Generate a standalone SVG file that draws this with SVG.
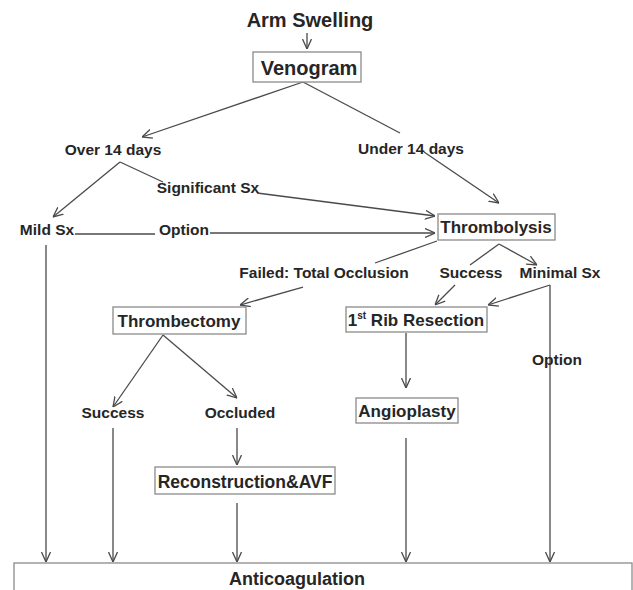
<svg xmlns="http://www.w3.org/2000/svg" width="633" height="590" viewBox="0 0 633 590">
<style>
text{font-family:"Liberation Sans",Arial,sans-serif;font-weight:bold;fill:#262626}
.lbl{font-size:15.5px}
.box{font-size:17px}
.big{font-size:20px}
rect{fill:#fff;stroke:#8a8a8a;stroke-width:1.3}
#connectors line{stroke:#4a4a4a;stroke-width:1.3;fill:none}
.a{marker-end:url(#arr)}
</style>
<defs>
<marker id="arr" viewBox="0 0 10 10" refX="10" refY="5" markerWidth="10" markerHeight="10" markerUnits="userSpaceOnUse" orient="auto">
<path d="M0,0.5 L10,5 L0,9.5" fill="none" stroke="#4a4a4a" stroke-width="1.3"/>
</marker>
</defs>
<rect x="0" y="0" width="633" height="590" style="fill:#fff;stroke:none"/>
<g id="connectors">
<line class="a" x1="307" y1="33" x2="307" y2="49"/>
<line class="a" x1="303" y1="82" x2="142" y2="137"/>
<line x1="303" y1="82" x2="400" y2="133"/>
<line class="a" x1="424" y1="152" x2="499" y2="203"/>
<line class="a" x1="120" y1="162" x2="53" y2="217"/>
<line x1="120" y1="162" x2="163" y2="182"/>
<line class="a" x1="257" y1="193" x2="435" y2="216"/>
<line x1="75" y1="234" x2="155" y2="234"/>
<line class="a" x1="210" y1="233" x2="435" y2="233"/>
<line x1="437" y1="241" x2="375" y2="263"/>
<line class="a" x1="303" y1="287" x2="240" y2="305"/>
<line x1="499" y1="244" x2="470" y2="265"/>
<line class="a" x1="499" y1="244" x2="537" y2="265"/>
<line class="a" x1="455" y1="285" x2="435" y2="305"/>
<line class="a" x1="550" y1="285" x2="488" y2="305"/>
<line class="a" x1="550" y1="285" x2="550" y2="562"/>
<line class="a" x1="406" y1="333" x2="406" y2="388"/>
<line class="a" x1="406" y1="438" x2="406" y2="562"/>
<line class="a" x1="163" y1="335" x2="113" y2="407"/>
<line class="a" x1="163" y1="335" x2="237" y2="398"/>
<line class="a" x1="113" y1="428" x2="113" y2="562"/>
<line class="a" x1="237" y1="428" x2="237" y2="465"/>
<line class="a" x1="237" y1="503" x2="237" y2="562"/>
<line class="a" x1="46" y1="245" x2="46" y2="562"/>
</g>
<g id="arm-swelling"><text class="big" x="310" y="27" text-anchor="middle">Arm Swelling</text></g>
<g id="venogram"><rect x="253" y="52" width="108" height="30"/><text class="big" x="309" y="75" text-anchor="middle">Venogram</text></g>
<g id="over14"><text class="lbl" x="113" y="155" text-anchor="middle">Over 14 days</text></g>
<g id="under14"><text class="lbl" x="411" y="154" text-anchor="middle">Under 14 days</text></g>
<g id="significant"><text class="lbl" x="208" y="193" text-anchor="middle">Significant Sx</text></g>
<g id="mild"><text class="lbl" x="47" y="235" text-anchor="middle">Mild Sx</text></g>
<g id="option1"><text class="lbl" x="184" y="235" text-anchor="middle">Option</text></g>
<g id="thrombolysis"><rect x="438" y="214" width="117" height="26"/><text class="box" x="496" y="233" text-anchor="middle">Thrombolysis</text></g>
<g id="failed"><text class="lbl" x="324" y="278" text-anchor="middle">Failed: Total Occlusion</text></g>
<g id="success1"><text class="lbl" x="471" y="278" text-anchor="middle">Success</text></g>
<g id="minimal"><text class="lbl" x="560" y="278" text-anchor="middle">Minimal Sx</text></g>
<g id="thrombectomy"><rect x="113" y="307" width="133" height="27"/><text class="box" x="179" y="327" text-anchor="middle">Thrombectomy</text></g>
<g id="rib"><rect x="346" y="307" width="141" height="25"/><text class="box" x="416" y="326" text-anchor="middle">1<tspan font-size="10" dy="-7">st</tspan><tspan dy="7"> Rib Resection</tspan></text></g>
<g id="option2"><text class="lbl" x="557" y="365" text-anchor="middle">Option</text></g>
<g id="angioplasty"><rect x="356" y="398" width="102" height="25"/><text class="box" x="407" y="417" text-anchor="middle">Angioplasty</text></g>
<g id="success2"><text class="lbl" x="113" y="418" text-anchor="middle">Success</text></g>
<g id="occluded"><text class="lbl" x="240" y="418" text-anchor="middle">Occluded</text></g>
<g id="reconstruction"><rect x="155" y="467" width="180" height="27"/><text class="box" x="245" y="488" text-anchor="middle" style="font-size:17.5px">Reconstruction&amp;AVF</text></g>
<g id="anticoagulation"><rect x="14" y="563" width="618" height="40"/><text class="box" x="297" y="585" text-anchor="middle" style="font-size:18px">Anticoagulation</text></g>
</svg>
